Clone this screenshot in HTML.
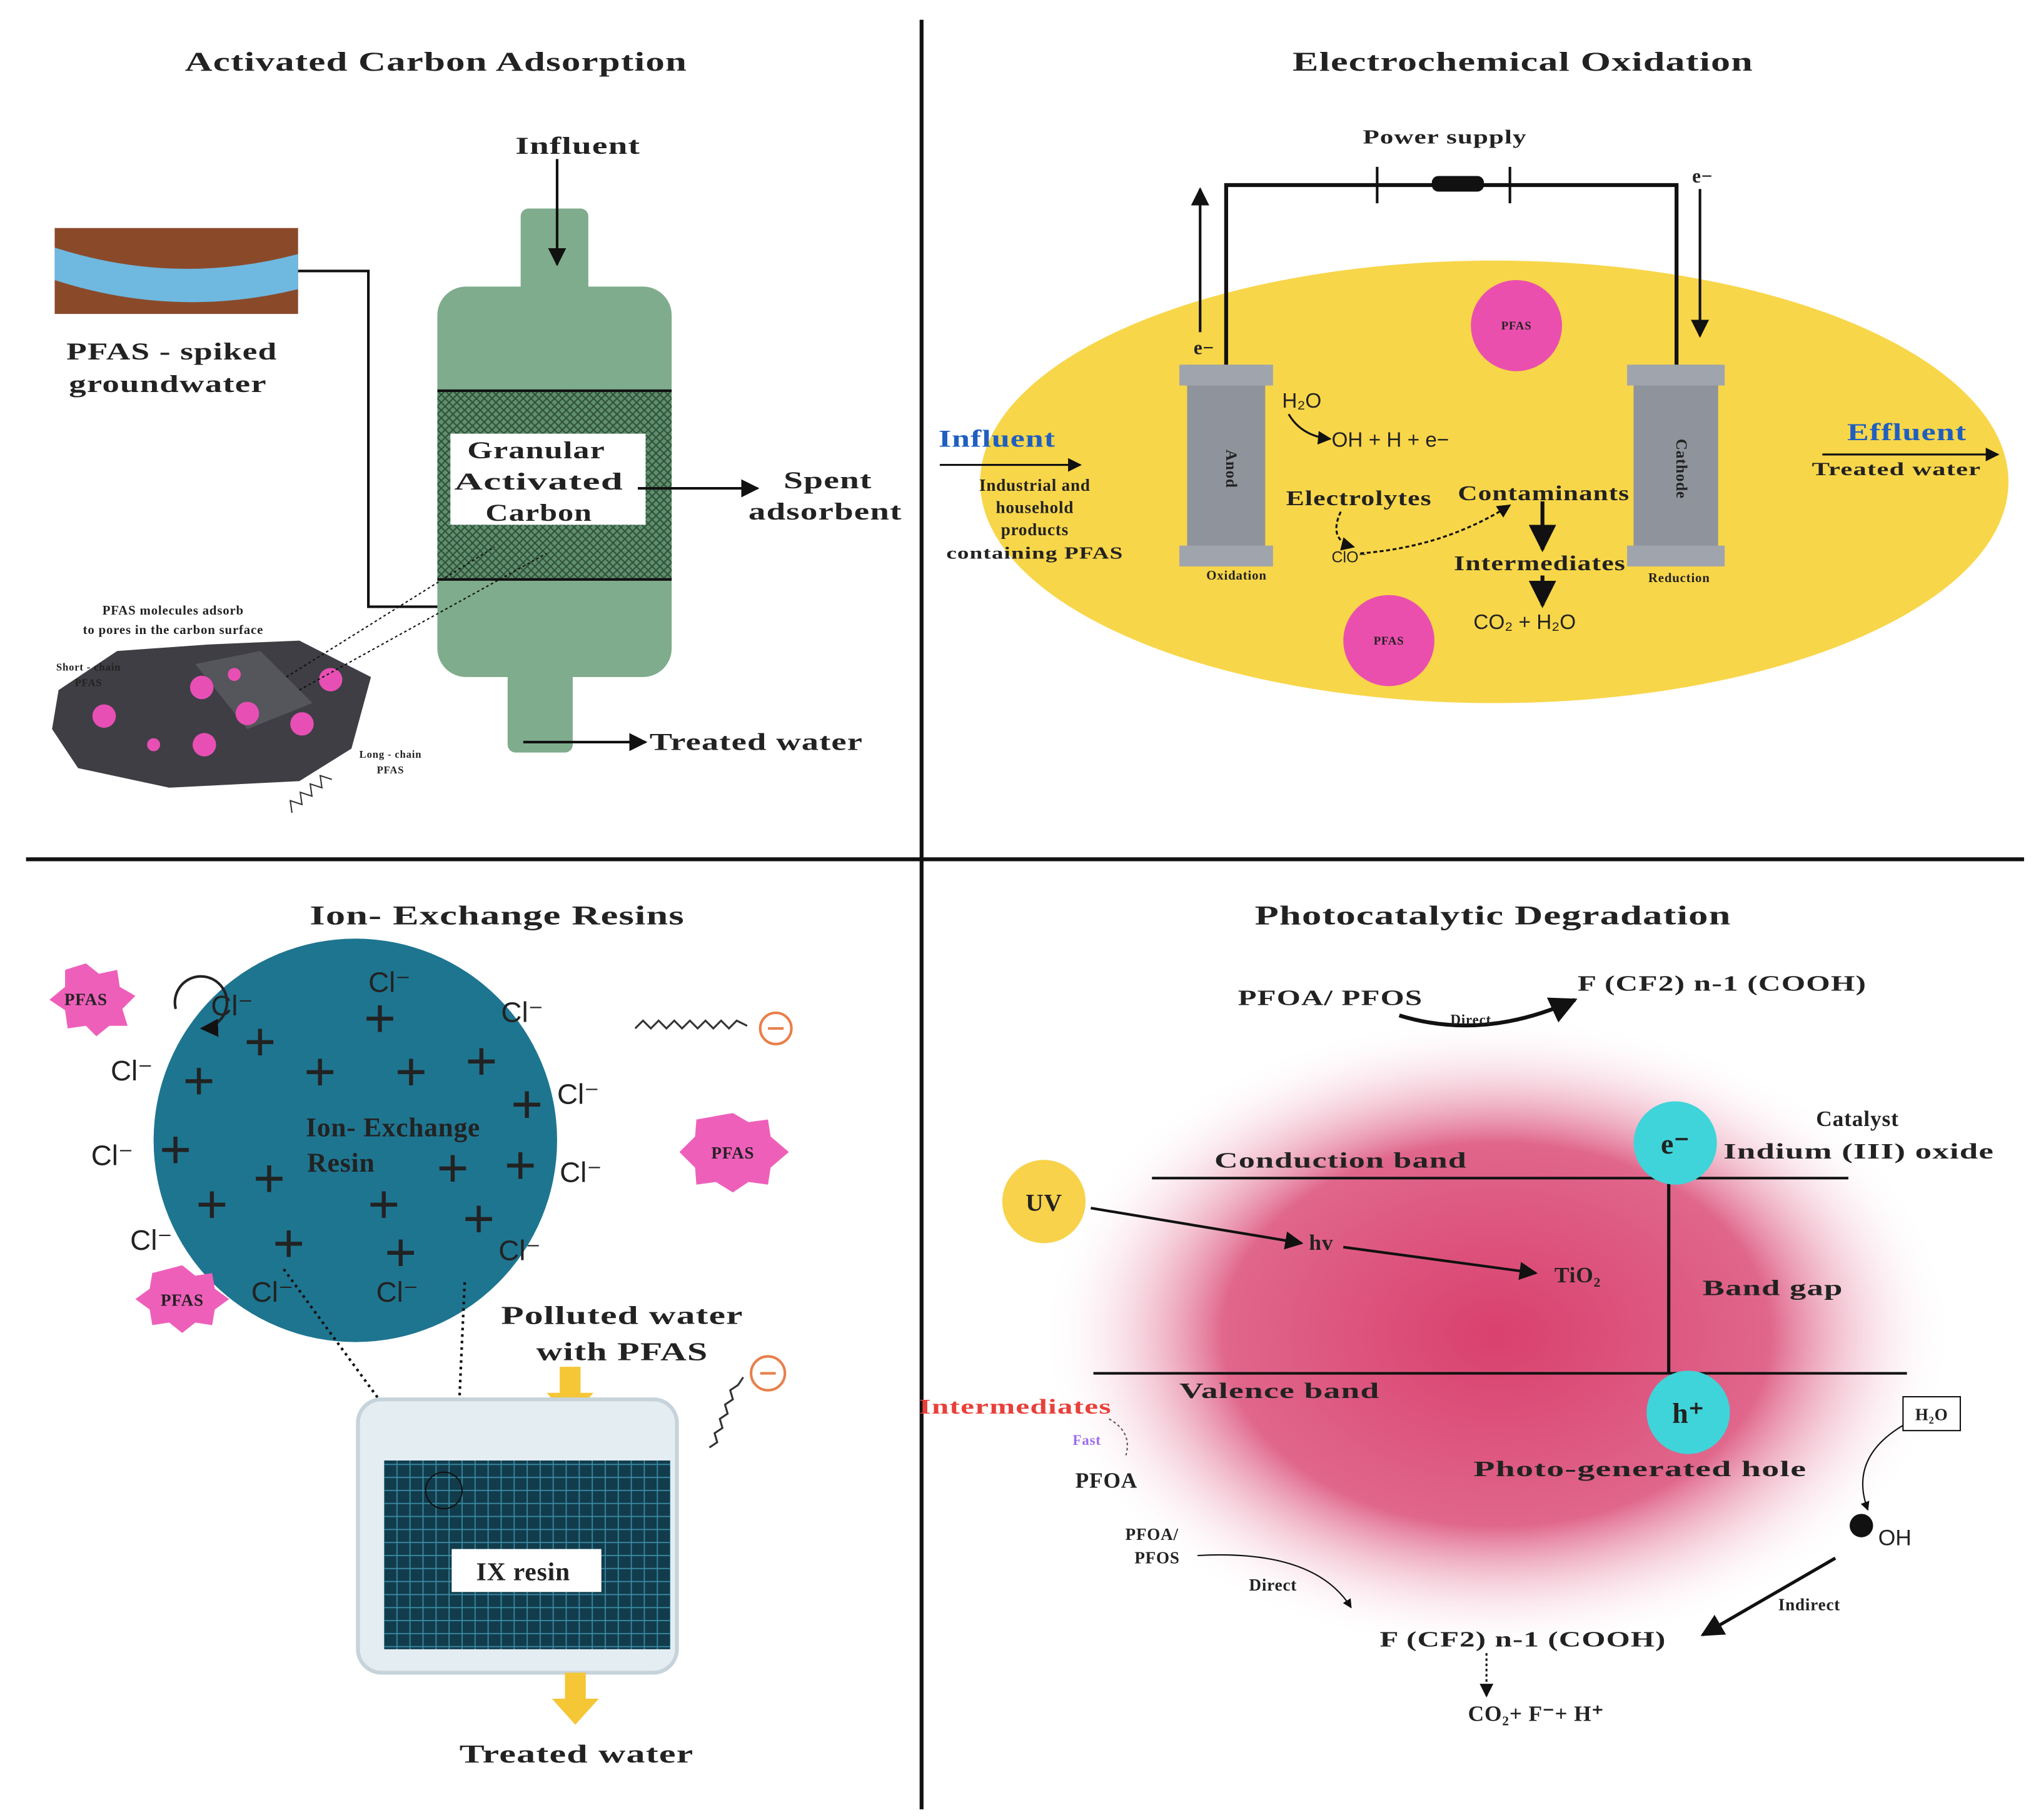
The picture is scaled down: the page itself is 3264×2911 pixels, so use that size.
<!DOCTYPE html>
<html><head><meta charset="utf-8"><style>
html,body{margin:0;padding:0;background:#fff}
svg{display:block}
text{font-family:"Liberation Serif",serif;font-weight:bold;fill:#222;letter-spacing:0.4px}
.s, .s text{font-family:"Liberation Sans",sans-serif;font-weight:normal;letter-spacing:0}
</style></head><body>
<svg width="3264" height="2911" viewBox="0 0 1568 1398" xmlns="http://www.w3.org/2000/svg">
<defs>
<marker id="a" viewBox="0 0 10 10" refX="9" refY="5" markerWidth="7" markerHeight="7" orient="auto"><path d="M0,0L10,5L0,10z" fill="#111"/></marker>
<pattern id="h" width="6" height="6" patternUnits="userSpaceOnUse"><rect width="6" height="6" fill="#5f8f6c"/><path d="M0,0L6,6M6,0L0,6" stroke="#2f4f3a" stroke-width="1"/></pattern>
<pattern id="g" width="10" height="10" patternUnits="userSpaceOnUse"><rect width="10" height="10" fill="#123c4c"/><path d="M0,5H10M5,0V10" stroke="#3a8fa8" stroke-width="0.8"/></pattern>
<radialGradient id="pk"><stop offset="0" stop-color="#d9406e"/><stop offset="0.6" stop-color="#e0668c"/><stop offset="1" stop-color="#fff" stop-opacity="0"/></radialGradient>
</defs>
<line x1="708" y1="15" x2="708" y2="1390" stroke="#111" stroke-width="3"/>
<line x1="20" y1="660" x2="1555" y2="660" stroke="#111" stroke-width="3"/>
<g font-size="21" text-anchor="middle">
<text x="335" y="54" textLength="386" lengthAdjust="spacingAndGlyphs">Activated Carbon Adsorption</text>
<text x="1170" y="54" textLength="354" lengthAdjust="spacingAndGlyphs">Electrochemical Oxidation</text>
<text x="382" y="710" textLength="288" lengthAdjust="spacingAndGlyphs">Ion- Exchange Resins</text>
<text x="1147" y="710" textLength="366" lengthAdjust="spacingAndGlyphs">Photocatalytic Degradation</text>
</g>
<!-- Q1 -->
<rect x="42" y="175" width="187" height="66" fill="#8a4a2a"/>
<path d="M42,190 Q135,220 229,195 L229,222 Q135,245 42,215z" fill="#6fb8e0"/>
<rect x="400" y="160" width="52" height="70" rx="6" fill="#7fac8c"/>
<rect x="336" y="220" width="180" height="300" rx="22" fill="#7fac8c"/>
<rect x="390" y="510" width="50" height="68" rx="6" fill="#7fac8c"/>
<rect x="336" y="300" width="180" height="145" fill="url(#h)"/>
<line x1="336" y1="300" x2="516" y2="300" stroke="#111" stroke-width="2"/>
<line x1="336" y1="445" x2="516" y2="445" stroke="#111" stroke-width="2"/>
<rect x="346" y="333" width="150" height="70" fill="#fff"/>
<g font-size="19" text-anchor="middle"><text x="412" y="352" textLength="106" lengthAdjust="spacingAndGlyphs">Granular</text><text x="414" y="376" textLength="130" lengthAdjust="spacingAndGlyphs">Activated</text><text x="414" y="400" textLength="82" lengthAdjust="spacingAndGlyphs">Carbon</text></g>
<text x="444" y="118" font-size="19" text-anchor="middle" textLength="96" lengthAdjust="spacingAndGlyphs">Influent</text>
<line x1="428" y1="122" x2="428" y2="203" stroke="#111" stroke-width="2" marker-end="url(#a)"/>
<polyline points="229,208 283,208 283,466 336,466" fill="none" stroke="#111" stroke-width="2"/>
<line x1="490" y1="375" x2="582" y2="375" stroke="#111" stroke-width="2" marker-end="url(#a)"/>
<g font-size="19" text-anchor="middle"><text x="636" y="375" textLength="68" lengthAdjust="spacingAndGlyphs">Spent</text><text x="634" y="399" textLength="118" lengthAdjust="spacingAndGlyphs">adsorbent</text></g>
<line x1="402" y1="570" x2="496" y2="570" stroke="#111" stroke-width="2" marker-end="url(#a)"/>
<text x="581" y="576" font-size="19" text-anchor="middle" textLength="164" lengthAdjust="spacingAndGlyphs">Treated water</text>
<g font-size="19"><text x="51" y="276" textLength="162" lengthAdjust="spacingAndGlyphs">PFAS - spiked</text><text x="53" y="301" textLength="152" lengthAdjust="spacingAndGlyphs">groundwater</text></g>
<text x="133" y="472" font-size="10" text-anchor="middle">PFAS molecules adsorb</text>
<text x="133" y="487" font-size="10" text-anchor="middle">to pores in the carbon surface</text>
<path d="M45,530 L90,500 L160,495 L230,492 L285,520 L270,575 L230,600 L130,605 L60,590 L40,560z" fill="#3e3e44"/>
<path d="M150,510 L200,500 L240,540 L190,560z" fill="#55555c"/>
<g fill="#e84fb4"><circle cx="80" cy="550" r="9"/><circle cx="118" cy="572" r="5"/><circle cx="155" cy="528" r="9"/><circle cx="157" cy="572" r="9"/><circle cx="190" cy="548" r="9"/><circle cx="232" cy="556" r="9"/><circle cx="254" cy="522" r="9"/><circle cx="180" cy="518" r="5"/></g>
<g stroke="#111" stroke-dasharray="2,2" fill="none"><line x1="220" y1="520" x2="380" y2="420"/><line x1="230" y1="530" x2="420" y2="425"/></g>
<text x="68" y="515" font-size="8" text-anchor="middle">Short - chain</text><text x="68" y="527" font-size="8" text-anchor="middle">PFAS</text>
<text x="300" y="582" font-size="8" text-anchor="middle">Long - chain</text><text x="300" y="594" font-size="8" text-anchor="middle">PFAS</text>
<path d="M210,615 l5,-8 l5,8 l5,-8 l5,8 l5,-8 l5,8 l5,-8 l5,8" fill="none" stroke="#333" transform="rotate(-40 230 600)"/>
<!-- Q2 -->
<ellipse cx="1148" cy="370" rx="395" ry="170" fill="#f8d649"/>
<polyline points="942,290 942,142 1288,142 1288,290" fill="none" stroke="#111" stroke-width="3"/>
<rect x="1100" y="135" width="40" height="12" rx="5" fill="#111"/>
<line x1="1058" y1="128" x2="1058" y2="156" stroke="#111" stroke-width="2"/>
<line x1="1160" y1="128" x2="1160" y2="156" stroke="#111" stroke-width="2"/>
<text x="1110" y="110" font-size="15" text-anchor="middle" textLength="126" lengthAdjust="spacingAndGlyphs">Power supply</text>
<line x1="922" y1="255" x2="922" y2="145" stroke="#111" stroke-width="2" marker-end="url(#a)"/>
<text x="925" y="272" font-size="15" text-anchor="middle">e−</text>
<line x1="1306" y1="145" x2="1306" y2="258" stroke="#111" stroke-width="2" marker-end="url(#a)"/>
<text x="1308" y="140" font-size="15" text-anchor="middle">e−</text>
<rect x="912" y="280" width="60" height="155" fill="#8f949c"/><rect x="906" y="280" width="72" height="16" fill="#a0a5ad"/><rect x="906" y="419" width="72" height="16" fill="#a0a5ad"/>
<rect x="1255" y="280" width="65" height="155" fill="#8f949c"/><rect x="1250" y="280" width="75" height="16" fill="#a0a5ad"/><rect x="1250" y="419" width="75" height="16" fill="#a0a5ad"/>
<text x="942" y="360" font-size="12" transform="rotate(90 942 360)" text-anchor="middle">Anod</text>
<text x="1288" y="360" font-size="12" transform="rotate(90 1288 360)" text-anchor="middle">Cathode</text>
<text x="950" y="445" font-size="10" text-anchor="middle">Oxidation</text>
<text x="1290" y="447" font-size="10" text-anchor="middle">Reduction</text>
<circle cx="1165" cy="250" r="35" fill="#ea4fae"/><text x="1165" y="253" font-size="9" text-anchor="middle">PFAS</text>
<circle cx="1067" cy="492" r="35" fill="#ea4fae"/><text x="1067" y="495" font-size="9" text-anchor="middle">PFAS</text>
<text x="766" y="343" font-size="19" style="fill:#1f5fc0" text-anchor="middle" textLength="90" lengthAdjust="spacingAndGlyphs">Influent</text>
<line x1="722" y1="357" x2="830" y2="357" stroke="#111" stroke-width="1.5" marker-end="url(#a)"/>
<g font-size="13" text-anchor="middle"><text x="795" y="377">Industrial and</text><text x="795" y="394">household</text><text x="795" y="411">products</text><text x="795" y="429" textLength="136" lengthAdjust="spacingAndGlyphs">containing PFAS</text></g>
<text x="1465" y="338" font-size="19" style="fill:#1f5fc0" text-anchor="middle" textLength="92" lengthAdjust="spacingAndGlyphs">Effluent</text>
<line x1="1400" y1="349" x2="1535" y2="349" stroke="#111" stroke-width="1.5" marker-end="url(#a)"/>
<text x="1457" y="365" font-size="14" text-anchor="middle" textLength="130" lengthAdjust="spacingAndGlyphs">Treated water</text>
<g font-size="16"><text x="985" y="313" class="s">H₂O</text><text x="1023" y="343" class="s">OH + H + e−</text><text x="988" y="388" textLength="112" lengthAdjust="spacingAndGlyphs">Electrolytes</text><text x="1120" y="384" textLength="132" lengthAdjust="spacingAndGlyphs">Contaminants</text><text x="1117" y="438" textLength="132" lengthAdjust="spacingAndGlyphs">Intermediates</text><text x="1132" y="483" class="s">CO₂ + H₂O</text><text x="1023" y="432" font-size="12" class="s">ClO⁻</text></g>
<g stroke="#111" fill="none" stroke-width="1.5"><path d="M990,318 Q1000,335 1022,337" marker-end="url(#a)"/><path d="M1030,393 Q1020,415 1040,420" marker-end="url(#a)" stroke-dasharray="3,2"/><path d="M1045,425 Q1110,420 1160,388" marker-end="url(#a)" stroke-dasharray="3,2"/></g>
<line x1="1185" y1="385" x2="1185" y2="422" stroke="#111" stroke-width="3" marker-end="url(#a)"/>
<line x1="1185" y1="442" x2="1185" y2="465" stroke="#111" stroke-width="3" marker-end="url(#a)"/>
<!-- Q3 -->
<circle cx="273" cy="876" r="155" fill="#1e7590"/>
<g font-size="44" text-anchor="middle" style="font-family:'Liberation Sans',sans-serif;font-weight:bold;fill:#000">
<text x="292" y="797">+</text><text x="200" y="815">+</text><text x="246" y="838">+</text><text x="316" y="838">+</text><text x="370" y="830">+</text><text x="153" y="845">+</text><text x="405" y="863">+</text><text x="135" y="898">+</text><text x="207" y="920">+</text><text x="348" y="912">+</text><text x="400" y="910">+</text><text x="163" y="940">+</text><text x="295" y="940">+</text><text x="368" y="951">+</text><text x="222" y="970">+</text><text x="308" y="977">+</text>
</g>
<g font-size="21" text-anchor="middle"><text x="302" y="873" textLength="134" lengthAdjust="spacingAndGlyphs">Ion- Exchange</text><text x="262" y="900">Resin</text></g>
<g font-size="22" class="s"><text x="162" y="780">Cl⁻</text><text x="283" y="762">Cl⁻</text><text x="385" y="785">Cl⁻</text><text x="85" y="830">Cl⁻</text><text x="428" y="848">Cl⁻</text><text x="70" y="895">Cl⁻</text><text x="430" y="908">Cl⁻</text><text x="100" y="960">Cl⁻</text><text x="383" y="968">Cl⁻</text><text x="193" y="1000">Cl⁻</text><text x="289" y="1000">Cl⁻</text></g>
<path d="M135,775 A20,20 0 1,1 155,790" fill="none" stroke="#222" stroke-width="2" marker-end="url(#a)"/>
<g fill="#ee5fba"><polygon points="66,740 76,748 90,745 92,758 104,765 94,775 98,788 84,788 74,796 66,788 52,790 50,776 38,768 50,758 50,745"/><polygon points="563,855 575,862 590,860 592,873 606,885 592,897 590,910 575,908 563,916 550,908 535,910 534,897 522,885 534,873 535,860"/><polygon points="140,972 150,980 163,978 165,990 176,998 165,1006 163,1018 150,1016 140,1024 130,1016 117,1018 115,1006 104,998 115,990 117,978"/></g>
<g font-size="13" text-anchor="middle"><text x="66" y="772">PFAS</text><text x="563" y="890">PFAS</text><text x="140" y="1003">PFAS</text></g>
<path d="M488,790 l6,-6 l6,6 l6,-6 l6,6 l6,-6 l6,6 l6,-6 l6,6 l6,-6 l6,6 l6,-6 l6,6 l6,-6 l8,4" fill="none" stroke="#333" stroke-width="1.5"/>
<circle cx="596" cy="790" r="12" fill="none" stroke="#e8804a" stroke-width="2"/><line x1="590" y1="790" x2="602" y2="790" stroke="#e8804a" stroke-width="2"/>
<circle cx="590" cy="1055" r="13" fill="none" stroke="#e8804a" stroke-width="2"/><line x1="584" y1="1055" x2="596" y2="1055" stroke="#e8804a" stroke-width="2"/>
<path d="M545,1112 l6,-4 l-2,-7 l6,-4 l-2,-7 l6,-4 l-2,-7 l6,-4 l-2,-7 l6,-4 l4,-6" fill="none" stroke="#333" stroke-width="1.5"/>
<g stroke="#111" stroke-dasharray="2,3" fill="none" stroke-width="2"><line x1="218" y1="975" x2="335" y2="1135"/><line x1="357" y1="985" x2="350" y2="1140"/></g>
<g font-size="20" text-anchor="middle"><text x="478" y="1017" textLength="186" lengthAdjust="spacingAndGlyphs">Polluted water</text><text x="478" y="1045" textLength="132" lengthAdjust="spacingAndGlyphs">with PFAS</text></g>
<path d="M430,1050 h16 v20 h10 l-18,20 l-18,-20 h10z" fill="#f5c636"/>
<rect x="275" y="1075" width="245" height="210" rx="18" fill="#e4edf2" stroke="#c7d3da" stroke-width="3"/>
<rect x="295" y="1122" width="220" height="145" fill="url(#g)"/>
<circle cx="341" cy="1145" r="14" fill="none" stroke="#111"/>
<rect x="347" y="1190" width="115" height="33" fill="#fff"/>
<text x="402" y="1214" font-size="20" text-anchor="middle">IX resin</text>
<path d="M434,1285 h16 v20 h10 l-18,20 l-18,-20 h10z" fill="#f5c636"/>
<text x="443" y="1354" font-size="20" text-anchor="middle" textLength="180" lengthAdjust="spacingAndGlyphs">Treated water</text>
<!-- Q4 -->
<ellipse cx="1150" cy="1025" rx="350" ry="245" fill="url(#pk)"/>
<text x="1022" y="772" font-size="17" text-anchor="middle" textLength="142" lengthAdjust="spacingAndGlyphs">PFOA/ PFOS</text>
<path d="M1075,780 Q1140,800 1210,768" fill="none" stroke="#111" stroke-width="3" marker-end="url(#a)"/>
<text x="1130" y="787" font-size="11" text-anchor="middle">Direct</text>
<text x="1323" y="761" font-size="17" text-anchor="middle" textLength="222" lengthAdjust="spacingAndGlyphs">F (CF2) n-1 (COOH)</text>
<line x1="885" y1="905" x2="1420" y2="905" stroke="#111" stroke-width="2"/>
<line x1="840" y1="1055" x2="1465" y2="1055" stroke="#111" stroke-width="2"/>
<line x1="1282" y1="1055" x2="1282" y2="888" stroke="#111" stroke-width="2.5" marker-end="url(#a)"/>
<g font-size="17" text-anchor="middle"><text x="1030" y="897" textLength="194" lengthAdjust="spacingAndGlyphs">Conduction band</text><text x="983" y="1074" textLength="154" lengthAdjust="spacingAndGlyphs">Valence band</text><text x="1362" y="995" textLength="108" lengthAdjust="spacingAndGlyphs">Band gap</text><text x="1427" y="865">Catalyst</text><text x="1428" y="890" textLength="208" lengthAdjust="spacingAndGlyphs">Indium (III) oxide</text><text x="1260" y="1134" textLength="256" lengthAdjust="spacingAndGlyphs">Photo-generated hole</text><text x="1015" y="960">hv</text><text x="1212" y="985">TiO₂</text><text x="850" y="1143">PFOA</text><text x="1170" y="1265" textLength="220" lengthAdjust="spacingAndGlyphs">F (CF2) n-1 (COOH)</text><text x="1180" y="1322">CO₂+ F⁻+ H⁺</text></g>
<circle cx="1287" cy="878" r="32" fill="#3fd4d9"/><text x="1287" y="886" font-size="22" text-anchor="middle">e⁻</text>
<circle cx="1297" cy="1085" r="32" fill="#3fd4d9"/><text x="1297" y="1093" font-size="22" text-anchor="middle">h⁺</text>
<circle cx="802" cy="923" r="32" fill="#f7d24a"/><text x="802" y="930" font-size="19" text-anchor="middle">UV</text>
<line x1="838" y1="928" x2="1000" y2="955" stroke="#111" stroke-width="2" marker-end="url(#a)"/>
<line x1="1032" y1="958" x2="1180" y2="978" stroke="#111" stroke-width="2" marker-end="url(#a)"/>
<text x="780" y="1086" font-size="16" text-anchor="middle" style="fill:#e8403a" textLength="148" lengthAdjust="spacingAndGlyphs">Intermediates</text>
<text x="835" y="1110" font-size="11" text-anchor="middle" style="fill:#9a6bef">Fast</text>
<path d="M852,1090 Q870,1100 865,1118" fill="none" stroke="#555" stroke-dasharray="2,2"/>
<g font-size="13" text-anchor="middle"><text x="885" y="1183">PFOA/</text><text x="889" y="1201">PFOS</text><text x="978" y="1222">Direct</text><text x="1390" y="1237">Indirect</text></g>
<path d="M920,1195 Q1010,1190 1038,1235" fill="none" stroke="#111" marker-end="url(#a)"/>
<rect x="1462" y="1073" width="44" height="26" fill="#fff" stroke="#111"/>
<text x="1484" y="1091" font-size="13" text-anchor="middle">H₂O</text>
<path d="M1462,1095 Q1420,1120 1435,1160" fill="none" stroke="#111" marker-end="url(#a)"/>
<circle cx="1430" cy="1172" r="9" fill="#111"/><text x="1443" y="1187" font-size="17" class="s">OH</text>
<line x1="1410" y1="1197" x2="1308" y2="1256" stroke="#111" stroke-width="2.5" marker-end="url(#a)"/>
<line x1="1142" y1="1270" x2="1142" y2="1303" stroke="#111" stroke-width="1.5" stroke-dasharray="2,2" marker-end="url(#a)"/>
</svg>
</body></html>
